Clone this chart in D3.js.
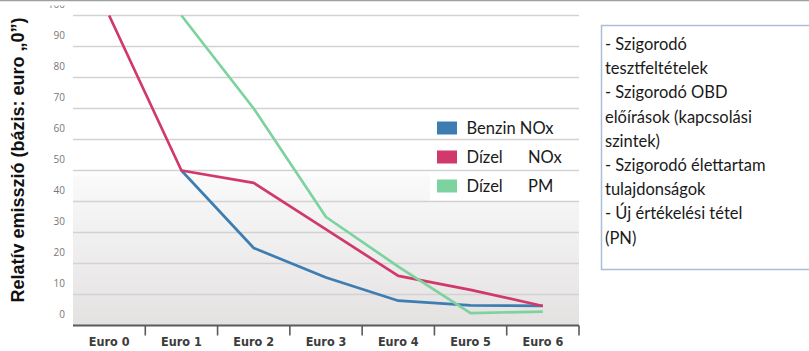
<!DOCTYPE html>
<html>
<head>
<meta charset="utf-8">
<script src="https://cdn.jsdelivr.net/npm/d3@7"></script>
<style>
  html, body { margin: 0; padding: 0; background: #fff; }
  svg { display: block; }
</style>
</head>
<body>
<svg id="chart" width="809" height="351"></svg>
<script>
// Emission stages and relative emissions (Euro 0 = 100)
const categories = ["Euro 0", "Euro 1", "Euro 2", "Euro 3", "Euro 4", "Euro 5", "Euro 6"];
const benzinNOx = [null, 50, 25, 15.5, 8, 6.5, 6.3];
const dizelNOx  = [100, 50, 46, 31, 16, 11.5, 6.3];
const dizelPM   = [null, 100, 70, 35, 19, 4, 4.5];
const yTicks = [0, 10, 20, 30, 40, 50, 60, 70, 80, 90, 100];
const seriesNames = [["Benzin", "NOx"], ["Dízel", "NOx"], ["Dízel", "PM"]];
const seriesColors = ["#3d7db2", "#d1386b", "#7dd39d"];
const noteLines = [
  "- Szigorodó",
  "tesztfeltételek",
  "- Szigorodó OBD",
  "előírások (kapcsolási",
  "szintek)",
  "- Szigorodó élettartam",
  "tulajdonságok",
  "- Új értékelési tétel",
  "(PN)"
];

const svg = d3.select("#chart");
const plotL = 73, plotR = 579, plotT = 15.5, plotB = 325.5;

const x = d3.scaleBand().domain(categories).range([plotL, plotR]);
const y = d3.scaleLinear().domain([0, 100]).range([plotB, plotT]);

// frame line along the top edge
svg.append("line").attr("x1", 0).attr("x2", 809).attr("y1", 0.5).attr("y2", 0.5)
  .attr("stroke", "#a0a0a0").attr("stroke-width", 1.5);

// plot background: white fading into light grey toward the baseline
const defs = svg.append("defs");
const grad = defs.append("linearGradient").attr("id", "bg").attr("x1", 0).attr("x2", 0).attr("y1", 0).attr("y2", 1);
grad.append("stop").attr("offset", "0").attr("stop-color", "#ffffff");
grad.append("stop").attr("offset", "0.5").attr("stop-color", "#ffffff");
grad.append("stop").attr("offset", "0.53").attr("stop-color", "#f9f9f9");
grad.append("stop").attr("offset", "1").attr("stop-color", "#e4e1e1");
svg.append("rect").attr("x", plotL).attr("y", plotT).attr("width", plotR - plotL).attr("height", plotB - plotT)
  .attr("fill", "url(#bg)");

// white panel behind the legend
svg.append("rect").attr("x", 430).attr("y", 110).attr("width", plotR - 430).attr("height", 91)
  .attr("fill", "#ffffff");

// horizontal gridlines
svg.append("g").selectAll("line").data(yTicks.filter(d => d > 0)).join("line")
  .attr("x1", plotL).attr("x2", plotR)
  .attr("y1", d => y(d)).attr("y2", d => y(d))
  .attr("stroke", "#d2d2d2").attr("stroke-width", 1.6);

// y tick labels, set slightly above their gridlines
const clip = defs.append("clipPath").attr("id", "yclip");
clip.append("rect").attr("x", 0).attr("y", 5.5).attr("width", 100).attr("height", 340);
const yAxis = svg.append("g").attr("clip-path", "url(#yclip)")
  .append("g")
  .attr("transform", "translate(65,-11)")
  .call(d3.axisLeft(y).tickValues(yTicks).tickSize(0).tickPadding(0));
yAxis.select(".domain").remove();
yAxis.selectAll("text")
  .attr("fill", "#777")
  .attr("font-family", "'Open Sans', sans-serif")
  .attr("font-size", 10);

// x axis: baseline with ticks between categories
svg.append("line").attr("x1", plotL).attr("x2", plotR).attr("y1", plotB).attr("y2", plotB)
  .attr("stroke", "#5a5a5a").attr("stroke-width", 1.8);
svg.append("g").selectAll("line").data(d3.range(1, categories.length + 1)).join("line")
  .attr("x1", i => plotL + x.step() * i).attr("x2", i => plotL + x.step() * i)
  .attr("y1", plotB).attr("y2", plotB + 10)
  .attr("stroke", "#5a5a5a").attr("stroke-width", 1.6);

const xAxis = svg.append("g").attr("transform", `translate(0,${plotB})`)
  .call(d3.axisBottom(x).tickSize(0).tickPadding(12));
xAxis.select(".domain").remove();
xAxis.selectAll("text")
  .attr("fill", "#3c3c3c")
  .attr("font-family", "'Liberation Sans Narrow', 'DejaVu Sans Condensed', sans-serif")
  .attr("font-weight", "bold")
  .attr("font-stretch", "condensed")
  .attr("font-size", 12.5);

// emission lines
const line = d3.line()
  .defined(d => d != null)
  .x((d, i) => x(categories[i]) + x.bandwidth() / 2)
  .y(d => y(d));
[benzinNOx, dizelNOx, dizelPM].forEach((s, k) => {
  svg.append("path").datum(s)
    .attr("d", line)
    .attr("fill", "none")
    .attr("stroke", seriesColors[k])
    .attr("stroke-width", 2.7)
    .attr("stroke-linejoin", "round");
});

// legend
const legend = svg.append("g");
seriesNames.forEach((n, k) => {
  const cy = 128 + k * 29;
  legend.append("rect").attr("x", 437).attr("y", cy - 6.5).attr("width", 20).attr("height", 13)
    .attr("fill", seriesColors[k]);
  const t = legend.append("text").attr("y", cy + 5.5)
    .attr("font-family", "Lato, 'Open Sans', sans-serif").attr("font-size", 16.5).attr("fill", "#1a1a1a");
  if (k === 0) {
    t.append("tspan").attr("x", 466.5).text(n[0] + " " + n[1]);
  } else {
    t.append("tspan").attr("x", 466.5).text(n[0]);
    t.append("tspan").attr("x", 528).text(n[1]);
  }
});

// y axis title
svg.append("text")
  .attr("transform", "translate(24,160) rotate(-90)")
  .attr("text-anchor", "middle")
  .attr("font-family", "'Liberation Sans', Arial, sans-serif")
  .attr("font-weight", "bold")
  .attr("font-size", 18)
  .attr("fill", "#111")
  .text("Relatív emisszió (bázis: euro „0”)");

// note box on the right
svg.append("rect").attr("x", 601.5).attr("y", 25.5).attr("width", 220).attr("height", 244)
  .attr("fill", "#fff").attr("stroke", "#a9bfd8").attr("stroke-width", 1.5);
svg.append("g").selectAll("text").data(noteLines).join("text")
  .attr("x", 605)
  .attr("y", (d, i) => 50 + i * 24.2)
  .attr("font-family", "Lato, 'Open Sans', sans-serif")
  .attr("font-size", 16.5)
  .attr("fill", "#1a1a1a")
  .text(d => d);
</script>
</body>
</html>
